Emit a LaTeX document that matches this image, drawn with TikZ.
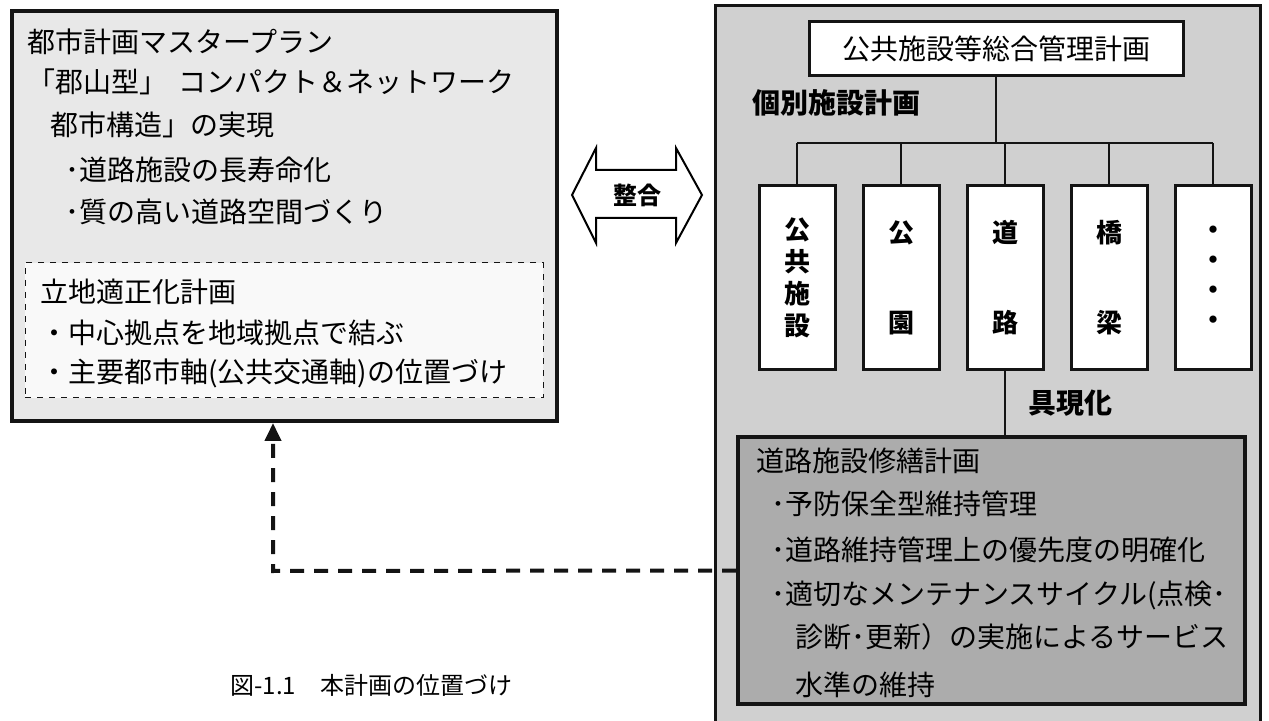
\documentclass[tikz,border=0pt]{standalone}
\usepackage{fontspec}
\setmainfont{Noto Sans CJK JP}
\usetikzlibrary{positioning,arrows.meta}
\definecolor{PlanInk}{RGB}{20,20,20}
\definecolor{MasterFill}{RGB}{232,232,232}
\definecolor{ZoneFill}{RGB}{249,249,249}
\definecolor{FacilFill}{RGB}{208,208,208}
\definecolor{RepairFill}{RGB}{172,172,172}

\begin{document}
\begin{tikzpicture}[x=0.5pt,y=-0.5pt,node distance=12.5pt,
  frame/.style={draw=PlanInk,line width=2pt,inner sep=0pt},
  planbox/.style={draw=PlanInk,line width=1.5pt,fill=white,inner sep=0pt},
  txt/.style={anchor=west,inner sep=0pt,font=\fontsize{14}{14}\selectfont},
  unitbox/.style={planbox,minimum width=38pt,minimum height=92pt,align=center,font=\bfseries\fontsize{13}{16}\selectfont},
  tree/.style={draw=PlanInk,line width=1pt},
  feedback/.style={draw=PlanInk,line width=2pt,dash pattern=on 7pt off 5pt,-{Triangle[width=8pt,length=9pt]}}]
  \useasboundingbox (0,0) rectangle (1269,721);
  \clip (0,0) rectangle (1269,721);

  \node[frame,fill=MasterFill,minimum width=272.5pt,minimum height=205pt] (master) at (284.5,216) {};
  \node[draw=PlanInk,line width=0.5pt,dashed,fill=ZoneFill,inner sep=0pt,minimum width=259pt,minimum height=67.5pt] (zoning) at (284,330.5) {};
  \node[txt] (mp1) at (27,42) {都市計画マスタープラン};
  \node[txt] (mp2) at (27,82) {「郡山型」\hspace{0.4em}コンパクト＆ネットワーク};
  \node[txt] (mp3) at (50,125) {都市構造」の実現};
  \node[txt] (mp4) at (65,170) {･道路施設の長寿命化};
  \node[txt] (mp5) at (65,212) {･質の高い道路空間づくり};
  \node[txt] (zn1) at (40,292) {立地適正化計画};
  \node[txt] (zn2) at (40,333) {・中心拠点を地域拠点で結ぶ};
  \node[txt] (zn3) at (40,373) {・主要都市軸(公共交通軸)の位置づけ};

  \draw[line width=1pt,fill=white] (572,195) -- (596,148) -- (596,170) -- (676,170) -- (676,148) -- (702,195)
    -- (676,243) -- (676,218) -- (596,218) -- (596,243) -- cycle;
  \node[font=\bfseries\fontsize{12}{12}\selectfont] (match) at (637,195) {整合};

  \node[frame,line width=1.5pt,fill=FacilFill,minimum width=272.5pt,minimum height=365pt] (facility) at (987.5,371) {};
  \node[planbox,minimum width=187pt,minimum height=27pt,font=\fontsize{14}{14}\selectfont] (overall) at (996,49) {公共施設等総合管理計画};
  \node[txt,font=\bfseries\fontsize{14}{14}\selectfont] (individual) at (752,103) {個別施設計画};
  \node[unitbox] (pub) at (797,278) {公\\共\\施\\設};
  \node[unitbox,right=of pub] (park) {公\\[29pt]園};
  \node[unitbox,right=of park] (road) {道\\[29pt]路};
  \node[unitbox,right=of road] (bridge) {橋\\[29pt]梁};
  \node[unitbox,right=of bridge] (etc) {・\\[-1pt]・\\[-1pt]・\\[-1pt]・};
  \coordinate (fork) at (overall.south |- 0,143);
  \draw[tree] (overall.south) -- (fork);
  \draw[tree] (pub.north |- fork) -- (etc.north |- fork);
  \foreach \u in {pub,park,road,bridge,etc}
    \draw[tree] (\u.north |- fork) -- (\u.north);

  \node[frame,fill=RepairFill,minimum width=253.5pt,minimum height=133.5pt] (repair) at (991.5,570.5) {};
  \draw[tree] (road.south) -- (road.south |- repair.north);
  \node[txt,font=\bfseries\fontsize{14}{14}\selectfont] (embody) at (1028,403) {具現化};
  \node[txt] (rp1) at (756,461) {道路施設修繕計画};
  \node[txt] (rp2) at (771,504) {･予防保全型維持管理};
  \node[txt] (rp3) at (771,550) {･道路維持管理上の優先度の明確化};
  \node[txt] (rp4) at (771,595) {･適切なメンテナンスサイクル(点検･};
  \node[txt] (rp5) at (795,637) {診断･更新）の実施によるサービス};
  \node[txt] (rp6) at (795,685) {水準の維持};

  \coordinate (turn) at (273,571);
  \draw[feedback] (repair.west) -- (turn) -- (turn |- master.south);

  \node[txt,font=\fontsize{12}{12}\selectfont] (caption) at (230,685) {図-1.1　本計画の位置づけ};
\end{tikzpicture}
\end{document}
